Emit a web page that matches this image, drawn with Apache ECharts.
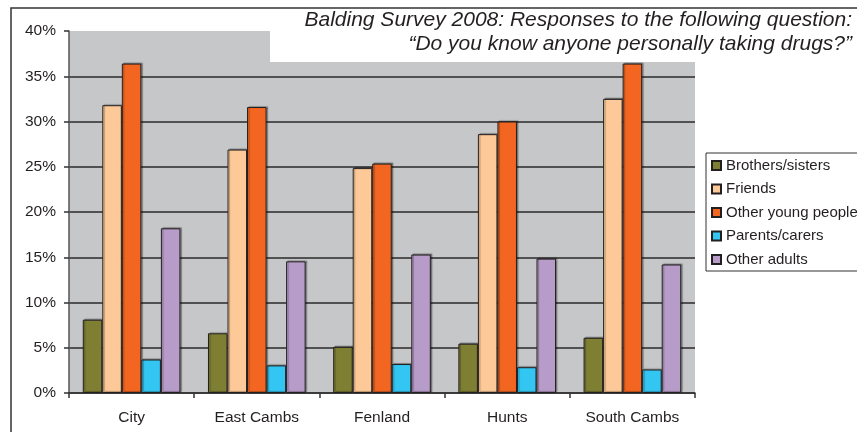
<!DOCTYPE html>
<html><head><meta charset="utf-8">
<script src="https://cdn.jsdelivr.net/npm/echarts@6/dist/echarts.min.js"></script>
<style>html,body{margin:0;padding:0;background:#fff}#c{width:857px;height:432px}</style>
</head><body><div id="c"></div>
<script>
const categories = ['City', 'East Cambs', 'Fenland', 'Hunts', 'South Cambs'];
const seriesNames = ['Brothers/sisters', 'Friends', 'Other young people', 'Parents/carers', 'Other adults'];
const brothersSisters = [8.1, 6.6, 5.1, 5.45, 6.1];
const friends = [31.8, 26.9, 24.85, 28.6, 32.5];
const otherYoungPeople = [36.4, 31.6, 25.35, 30.0, 36.4];
const parentsCarers = [3.7, 3.05, 3.2, 2.85, 2.6];
const otherAdults = [18.2, 14.55, 15.3, 14.85, 14.2];
const yTicks = [0, 5, 10, 15, 20, 25, 30, 35, 40];
const titleLines = ['Balding Survey 2008: Responses to the following question:', '\u201cDo you know anyone personally taking drugs?\u201d'];

const colors = ['#7f7f33', '#fdc998', '#f36621', '#33c6f2', '#b79bc8'];
const allData = [brothersSisters, friends, otherYoungPeople, parentsCarers, otherAdults];
const font = 'Liberation Sans, Arial, sans-serif';

const chart = echarts.init(document.getElementById('c'));
chart.setOption({
  animation: false,
  color: colors,
  grid: {left: 69, right: 162, top: 31, bottom: 39, show: true, backgroundColor: '#c6c7c9', borderWidth: 0},
  xAxis: {
    type: 'category', data: categories,
    axisLine: {lineStyle: {color: '#333', width: 1.5}},
    axisTick: {show: true, alignWithLabel: false, length: 5, lineStyle: {color: '#333', width: 1.5}},
    axisLabel: {color: '#231f20', fontSize: 15.5, fontFamily: font, margin: 17}
  },
  yAxis: {
    type: 'value', min: yTicks[0], max: yTicks[yTicks.length - 1], interval: 5,
    axisLine: {show: true, lineStyle: {color: '#555', width: 1.5}},
    axisTick: {show: true, length: 5, lineStyle: {color: '#333', width: 1.5}},
    axisLabel: {formatter: '{value}%', color: '#231f20', fontSize: 15.5, fontFamily: font, margin: 13},
    splitLine: {show: true, showMaxLine: false, lineStyle: {color: '#2a2a2a', width: 1.5}}
  },
  legend: {
    orient: 'vertical', left: 706, top: 153,
    itemWidth: 9, itemHeight: 9, itemGap: 8.5,
    padding: [5, 40, 4, 5],
    borderColor: '#333', borderWidth: 1,
    icon: 'rect',
    textStyle: {color: '#231f20', fontSize: 15, fontFamily: font},
    data: seriesNames
  },
  series: seriesNames.map((n, i) => ({
    name: n, type: 'bar', data: allData[i],
    barGap: '0%', barCategoryGap: '22%',
    itemStyle: {color: colors[i], borderColor: '#231f20', borderWidth: 1,
      shadowColor: 'rgba(0,0,0,0.3)', shadowOffsetX: 1.5, shadowOffsetY: -1, shadowBlur: 1}
  })),
  graphic: [
    {type: 'rect', shape: {x: 270, y: 9, width: 600, height: 53}, style: {fill: '#fff'}, z: 50},
    {type: 'text', x: 852, y: 8, z: 51, style: {text: titleLines.join('\n'), textAlign: 'right',
      font: 'italic 21px ' + font, fill: '#231f20', lineHeight: 24}},
    {type: 'polyline', shape: {points: [[11, 432], [11, 8], [857, 8]]}, style: {stroke: '#333', lineWidth: 1.5, fill: null}, z: 52}
  ]
});
</script></body></html>
